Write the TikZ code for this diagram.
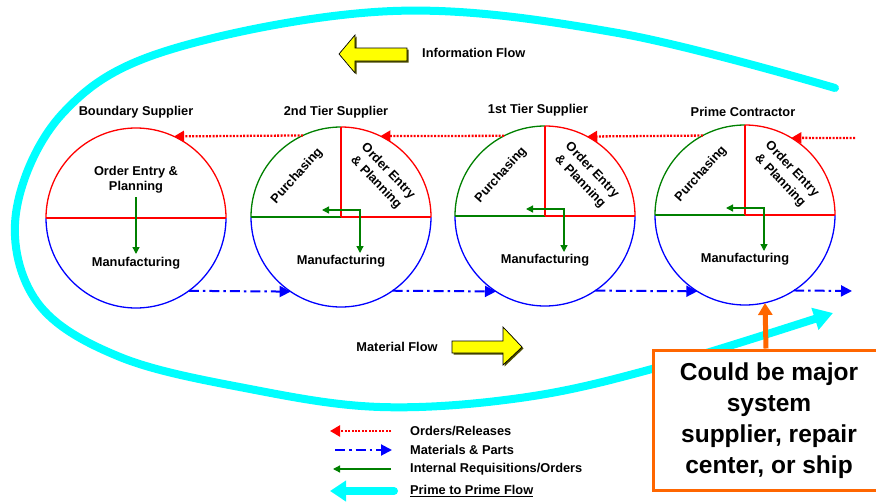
\documentclass[tikz,border=0pt]{standalone}
\usepackage{fontspec}
\setmainfont{Liberation Sans}
\usetikzlibrary{arrows.meta}
\definecolor{cy}{HTML}{00FFFF}
\definecolor{orng}{HTML}{FF6600}
\definecolor{grn}{HTML}{008000}
\definecolor{yel}{HTML}{FFFF00}
\definecolor{shadowcol}{HTML}{4D4D00}
\tikzset{tipg/.tip={Triangle[length=7pt,width=7pt]}}
\begin{document}
\begin{tikzpicture}[x=1pt,y=1pt,
  lbl/.style={font=\bfseries\fontsize{12.8}{15}\selectfont, inner sep=0pt, align=center},
  rotlbl/.style={font=\bfseries\fontsize{12.8}{16.5}\selectfont, inner sep=0pt, align=center},
  bigtext/.style={font=\bfseries\fontsize{24.5}{31}\selectfont, align=center, inner sep=0pt},
  ring/.style={circle, minimum size=180pt, inner sep=0pt, outer sep=0pt},
  arcl/.style={line width=1.3pt},
  orders/.style={red, line width=2.3pt, dash pattern=on 2pt off 1.4pt, -{Triangle[length=10pt,width=11pt]}},
  materials/.style={blue, line width=2pt, dash pattern=on 10pt off 4pt on 2.5pt off 4pt, -{Triangle[length=11pt,width=11pt]}},
  internal/.style={grn, line width=1.3pt},
  primeflow/.style={cy, line width=8pt, line cap=round},
  blockarrow/.style={fill=yel, draw=black, line width=0.7pt, line join=miter},
  blockshadow/.style={fill=shadowcol, draw=none},
]
\useasboundingbox (0,0) rectangle (876,-501);

% ---- prime-to-prime loop ----
\draw[primeflow, -{Triangle[length=19pt,width=22pt]}] plot[smooth, tension=0.6] coordinates {
  (835,-88) (618,-33) (393,-11) (169,-50) (63,-113) (16,-213) (37,-302)
  (120,-357) (250,-389) (380,-407) (520,-398) (652,-369) (833,-313)};

% ---- the four organisations ----
\node[ring] (k1) at (136,-218) {};
\node[ring] (k2) at (341,-217) {};
\node[ring] (k3) at (545,-216) {};
\node[ring] (k4) at (745,-215) {};

% boundary supplier: order entry over manufacturing
\draw[arcl, red] (k1.west) arc[start angle=180, end angle=0, radius=90pt];
\draw[arcl, blue] (k1.west) arc[start angle=180, end angle=360, radius=90pt];
\draw[arcl, red] (k1.west) -- (k1.east);

% tiers: purchasing | order entry over manufacturing
\foreach \k in {k2,k3,k4}{
  \draw[arcl, grn] (\k.west) arc[start angle=180, end angle=90, radius=90pt];
  \draw[arcl, red] (\k.north) arc[start angle=90, end angle=0, radius=90pt];
  \draw[arcl, blue] (\k.west) arc[start angle=180, end angle=360, radius=90pt];
  \draw[arcl, grn] (\k.west) -- (\k.center);
  \draw[arcl, red] (\k.center) -- (\k.east);
  \draw[arcl, red] (\k.north) -- (\k.center);
  \draw[internal, {tipg}-{tipg}] ([shift={(-19,7)}]\k.center) -- ([shift={(19,7)}]\k.center) -- ([shift={(19,-36)}]\k.center);
  \node[rotlbl, rotate=48] at ([shift={(-44,41)}]\k.center) {Purchasing};
  \node[rotlbl, rotate=-46] at ([shift={(41,40)}]\k.center) {Order Entry\\\& Planning};
  \node[lbl] at ([shift={(0,-44)}]\k.center) {Manufacturing};
}

\node[lbl] (oe1) at (136,-180) {Order Entry \&\\Planning};
\node[lbl] (mf1) at (136,-263) {Manufacturing};
\draw[internal, -{tipg}] (136,-197) -- (136,-254);

% titles
\node[lbl] (t1) at (136,-112) {Boundary Supplier};
\node[lbl] (t2) at (336,-112) {2nd Tier Supplier};
\node[lbl] (t3) at (538,-110) {1st Tier Supplier};
\node[lbl] (t4) at (743,-112) {Prime Contractor};

% ---- orders / releases (right to left) ----
\coordinate (ordin) at (855,-138);
\draw[orders] (ordin) -- (k4.59);
\draw[orders] (k4.118.6) -- (k3.62.7);
\draw[orders] (k3.117.3) -- (k2.64.2);
\draw[orders] (k2.115.8) -- (k1.65.7);

% ---- materials & parts (left to right) ----
\coordinate (matout) at (852,-291);
\draw[materials] (k1.-54.2) -- (k2.-124.7);
\draw[materials] (k2.-55.3) -- (k3.-123.6);
\draw[materials] (k3.-56.4) -- (k4.-122.4);
\draw[materials] (k4.-57.6) -- (matout);

% ---- flow arrows ----
\fill[blockshadow] (340.5,-55.5) -- (356.5,-36.5) -- (356.5,-49.5) -- (408.5,-49.5) -- (408.5,-62.5) -- (356.5,-62.5) -- (356.5,-74.5) -- cycle;
\draw[blockarrow] (339,-54) -- (355,-35) -- (355,-48) -- (407,-48) -- (407,-61) -- (355,-61) -- (355,-73) -- cycle;
\node[lbl, anchor=west] (inf) at (422,-53) {Information Flow};

\fill[blockshadow] (453.5,-342.5) -- (504.5,-342.5) -- (504.5,-328.5) -- (523.5,-348.5) -- (504.5,-366.5) -- (504.5,-354.5) -- (453.5,-354.5) -- cycle;
\draw[blockarrow] (452,-341) -- (503,-341) -- (503,-327) -- (522,-347) -- (503,-365) -- (503,-353) -- (452,-353) -- cycle;
\node[lbl] (mfl) at (397,-347) {Material Flow};

% ---- call-out ----
\node[draw=orng, line width=3pt, fill=white, minimum width=232pt, minimum height=140pt, inner sep=0pt] (note) at (769,-420) {};
\node[bigtext] at (769,-421) {Could be major\\system\\supplier, repair\\center, or ship};
\draw[orng, line width=5pt, -{Triangle[length=12pt,width=14pt]}] (note.north -| 766,0) -- (765,-303);

% ---- legend ----
\coordinate (l1a) at (391,-431); \coordinate (l1b) at (330,-431);
\coordinate (l2a) at (335,-450); \coordinate (l2b) at (392,-450);
\coordinate (l3a) at (391,-469); \coordinate (l3b) at (333,-469);
\coordinate (l4a) at (394,-491); \coordinate (l4b) at (330,-491);
\draw[orders] (l1a) -- (l1b);
\draw[materials] (l2a) -- (l2b);
\draw[internal, -{tipg}] (l3a) -- (l3b);
\draw[primeflow, -{Triangle[length=16pt,width=20pt]}] (l4a) -- (l4b);
\node[lbl, anchor=west] at (410,-431) {Orders/Releases};
\node[lbl, anchor=west] at (410,-450) {Materials \& Parts};
\node[lbl, anchor=west] at (410,-469) {Internal Requisitions/Orders};
\node[lbl, anchor=west] at (410,-491) {\underline{Prime to Prime Flow}};
\end{tikzpicture}
\end{document}
